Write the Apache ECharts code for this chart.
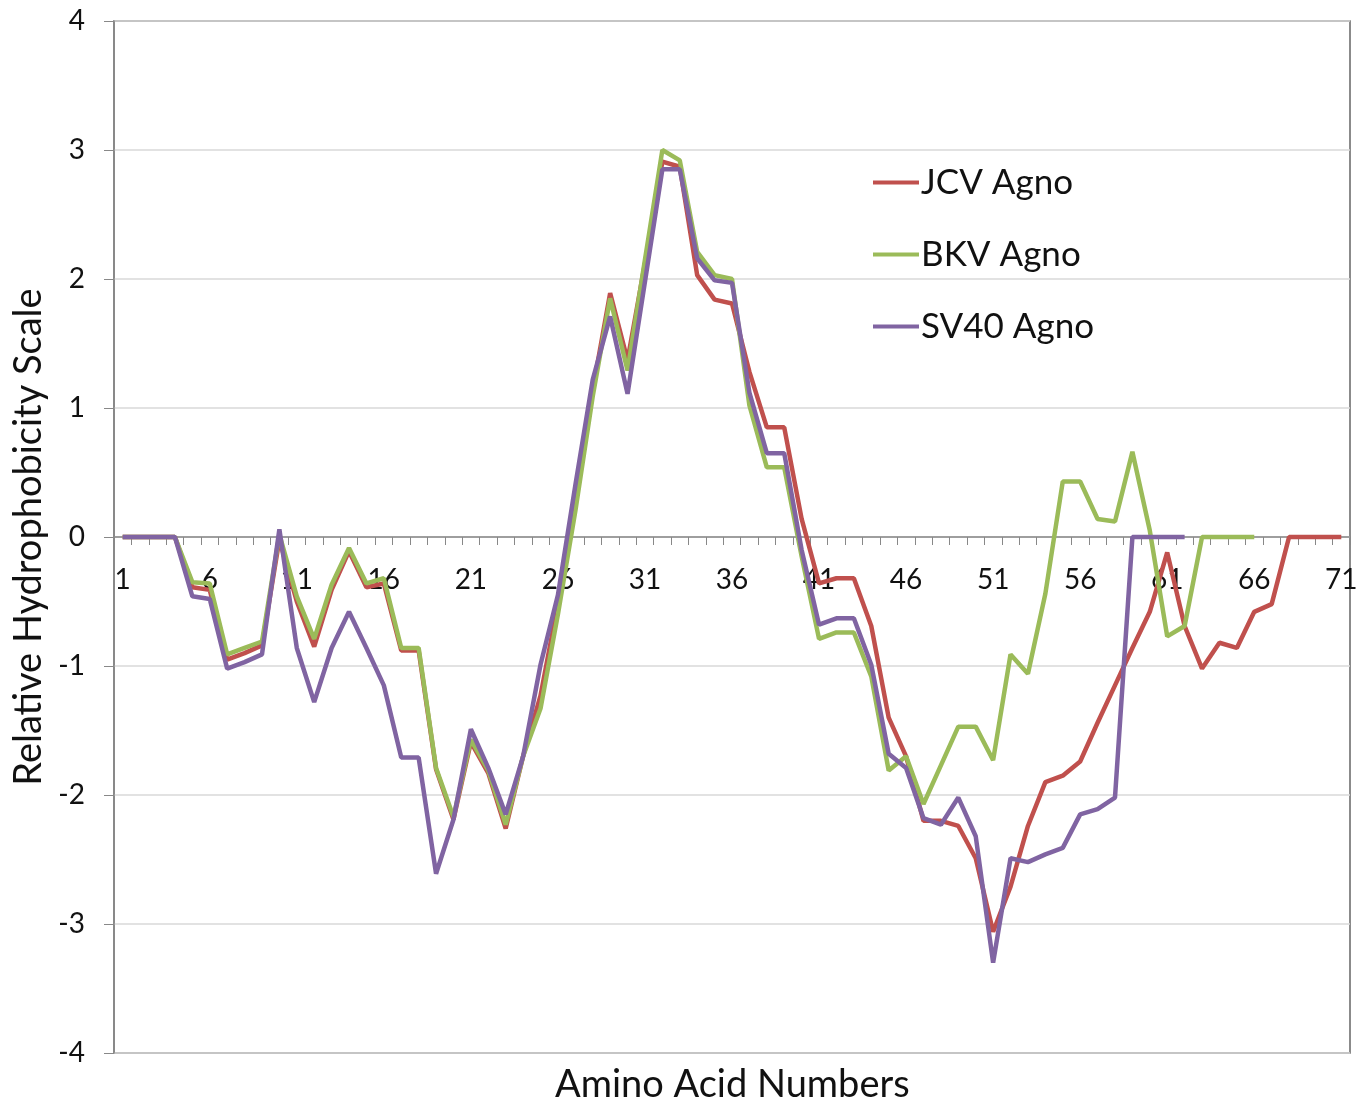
<!DOCTYPE html>
<html>
<head>
<meta charset="utf-8">
<script src="https://cdn.jsdelivr.net/npm/echarts@6/dist/echarts.min.js"></script>
<style>
html, body { margin: 0; padding: 0; background: #ffffff; }
#chart { width: 1369px; height: 1106px; }
</style>
</head>
<body>
<div id="chart"></div>
<script>
// amino acid positions 1..71
const aminoAcids = []
for (let i = 1; i <= 71; i++) aminoAcids.push(String(i))

const jcvAgno = [
    0, 0, 0, 0, -0.39, -0.41, -0.95, -0.90, -0.84, -0.02,
    -0.50, -0.85, -0.41, -0.11, -0.39, -0.36, -0.88, -0.88, -1.80, -2.19,
    -1.59, -1.83, -2.26, -1.70, -1.23, -0.52, 0.30, 1.14, 1.89, 1.37,
    2.12, 2.91, 2.87, 2.03, 1.84, 1.81, 1.28, 0.85, 0.85, 0.14,
    -0.36, -0.32, -0.32, -0.69, -1.40, -1.70, -2.20, -2.20, -2.24, -2.49,
    -3.06, -2.71, -2.24, -1.90, -1.85, -1.74, -1.44, -1.15, -0.86, -0.58,
    -0.12, -0.69, -1.02, -0.82, -0.86, -0.58, -0.52, 0, 0, 0,
    0
]
const bkvAgno = [
    0, 0, 0, 0, -0.35, -0.36, -0.91, -0.86, -0.81, 0.02,
    -0.46, -0.79, -0.37, -0.085, -0.36, -0.32, -0.86, -0.86, -1.79, -2.17,
    -1.57, -1.81, -2.23, -1.70, -1.33, -0.60, 0.20, 1.09, 1.85, 1.29,
    2.15, 3.00, 2.92, 2.21, 2.03, 2.00, 1.02, 0.54, 0.54, -0.15,
    -0.79, -0.74, -0.74, -1.08, -1.81, -1.70, -2.07, -1.77, -1.47, -1.47,
    -1.73, -0.91, -1.06, -0.44, 0.43, 0.43, 0.14, 0.12, 0.66, 0.05,
    -0.77, -0.69, 0, 0, 0, 0
]
const sv40Agno = [
    0, 0, 0, 0, -0.46, -0.48, -1.02, -0.97, -0.91, 0.06,
    -0.86, -1.28, -0.86, -0.58, -0.86, -1.15, -1.71, -1.71, -2.61, -2.19,
    -1.49, -1.79, -2.15, -1.70, -0.99, -0.45, 0.40, 1.22, 1.71, 1.11,
    1.98, 2.85, 2.85, 2.16, 1.99, 1.97, 1.12, 0.65, 0.65, -0.10,
    -0.68, -0.63, -0.63, -0.99, -1.68, -1.79, -2.18, -2.23, -2.02, -2.32,
    -3.30, -2.49, -2.52, -2.46, -2.41, -2.15, -2.11, -2.02, 0, 0,
    0, 0
]
const seriesNames = ['JCV Agno', 'BKV Agno', 'SV40 Agno']
const seriesColors = ['#C0504D', '#9BBB59', '#8064A2']

const fontFamily = 'Lato, "Open Sans", sans-serif'

function makeLine(name, color, data) {
    return {
        name: name,
        type: 'line',
        symbol: 'none',
        data: data,
        lineStyle: { color: color, width: 4.5 },
        itemStyle: { color: color }
    }
}

const chart = echarts.init(document.getElementById('chart'))
chart.setOption({
    backgroundColor: '#ffffff',
    animation: false,
    textStyle: { fontFamily: fontFamily },
    title: {
        text: 'Amino Acid Numbers',
        left: 550,
        top: 1061,
        textStyle: { fontFamily: fontFamily, fontSize: 38, fontWeight: 'normal', color: '#111' }
    },
    grid: {
        left: 114, right: 19, top: 21, bottom: 53,
        outerBoundsMode: 'none',
        show: true, borderColor: '#666', borderWidth: 1.5
    },
    legend: {
        orient: 'vertical',
        left: 868,
        top: 160,
        itemGap: 37,
        itemWidth: 46,
        itemHeight: 4,
        icon: 'rect',
        data: seriesNames,
        textStyle: { fontFamily: fontFamily, fontSize: 35, color: '#111', lineHeight: 35, padding: [0, 0, 0, -3] }
    },
    xAxis: {
        type: 'category',
        data: aminoAcids,
        boundaryGap: true,
        axisLine: { onZero: true, lineStyle: { color: '#888', width: 1.5 } },
        axisTick: { show: true, interval: 0, length: 8, lineStyle: { color: '#888' } },
        // v6 keeps the labels at the grid edge, pull them back up under the zero line
        axisLabel: { interval: 4, margin: -487, fontSize: 28, color: '#111', fontFamily: fontFamily },
        splitLine: { show: false }
    },
    yAxis: {
        type: 'value',
        min: -4, max: 4, interval: 1,
        name: 'Relative Hydrophobicity Scale',
        nameLocation: 'middle',
        nameRotate: 90,
        nameGap: 64,
        nameTextStyle: { fontFamily: fontFamily, fontSize: 38, color: '#111' },
        axisLine: { show: true, lineStyle: { color: '#888', width: 1.5 } },
        axisTick: { show: true, length: 10, lineStyle: { color: '#888' } },
        axisLabel: { margin: 29, fontSize: 28, color: '#111', fontFamily: fontFamily },
        splitLine: { lineStyle: { color: '#d9d9d9', width: 1.5 } }
    },
    series: [
        makeLine(seriesNames[0], seriesColors[0], jcvAgno),
        makeLine(seriesNames[1], seriesColors[1], bkvAgno),
        makeLine(seriesNames[2], seriesColors[2], sv40Agno)
    ]
})
</script>
</body>
</html>
